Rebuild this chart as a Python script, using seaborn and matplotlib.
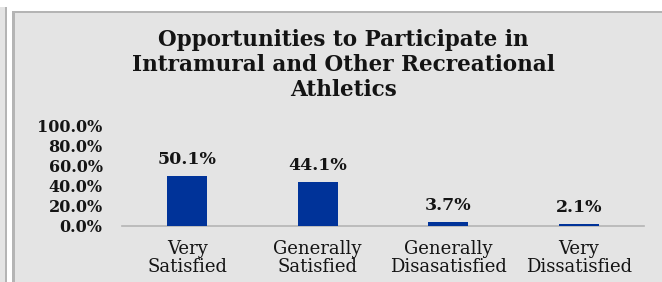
import matplotlib
matplotlib.use("Agg")
import matplotlib.pyplot as plt
from matplotlib.patches import Rectangle
import seaborn as sns
import pandas as pd

categories = ["Very\nSatisfied", "Generally\nSatisfied", "Generally\nDisasatisfied", "Very\nDissatisfied"]
values = [50.1, 44.1, 3.7, 2.1]
yticks = [0, 20, 40, 60, 80, 100]
title = "Opportunities to Participate in\nIntramural and Other Recreational\nAthletics"

df = pd.DataFrame({"category": categories, "pct": values})

W, H = 662, 282
BG = "#e4e4e4"
EDGE = "#b4b4b4"
TXT = "#141414"

sns.set_style("white")
plt.rcParams["font.family"] = ["DejaVu Serif"]

fig = plt.figure(figsize=(W / 100, H / 100), dpi=100, facecolor="white")

# frame decorations (pixel boxes -> figure fractions)
def box(x0, y0, x1, y1, color):
    fig.add_artist(Rectangle((x0 / W, 1 - y1 / H), (x1 - x0) / W, (y1 - y0) / H,
                             transform=fig.transFigure, facecolor=color,
                             edgecolor="none", zorder=0))

box(0, 7, 5, H, BG)
box(5, 7, 7, H, EDGE)
box(12, 11, W, 13, EDGE)
box(12, 11, 15, H, EDGE)
box(15, 13, W, H, BG)

ax = fig.add_axes([122 / W, (H - 226) / H, (644 - 122) / W, 100 / H])
ax.set_facecolor("none")
sns.barplot(data=df, x="category", y="pct", color="#003399", width=0.31,
            saturation=1, linewidth=0, ax=ax)

ax.set_ylim(0, 100)
ax.set_yticks(yticks)
ax.set_yticklabels([f"{t:.1f}%" for t in yticks], fontsize=11.5, fontweight="bold",
                   color=TXT)
ax.tick_params(axis="y", length=0, pad=14)
ax.tick_params(axis="x", length=0, pad=10, labelsize=13, labelcolor=TXT)
for lab in ax.get_xticklabels():
    lab.set_linespacing(1.0)
ax.set_xlabel("")
ax.set_ylabel("")

for s in ["top", "right", "left"]:
    ax.spines[s].set_visible(False)
ax.spines["bottom"].set_color(EDGE)
ax.spines["bottom"].set_linewidth(1.2)
ax.spines["bottom"].set_zorder(0.5)

for i, v in enumerate(values):
    ax.annotate(f"{v:.1f}%", (i, v), xytext=(0, 6), textcoords="offset points",
                ha="center", va="bottom", fontsize=12.5, fontweight="bold",
                color=TXT)

fig.text(343 / W, 1 - 29 / H, title, ha="center", va="top", fontsize=15.5,
         fontweight="bold", color=TXT, linespacing=1.17)

fig.savefig("out.png", dpi=100, facecolor=fig.get_facecolor())
